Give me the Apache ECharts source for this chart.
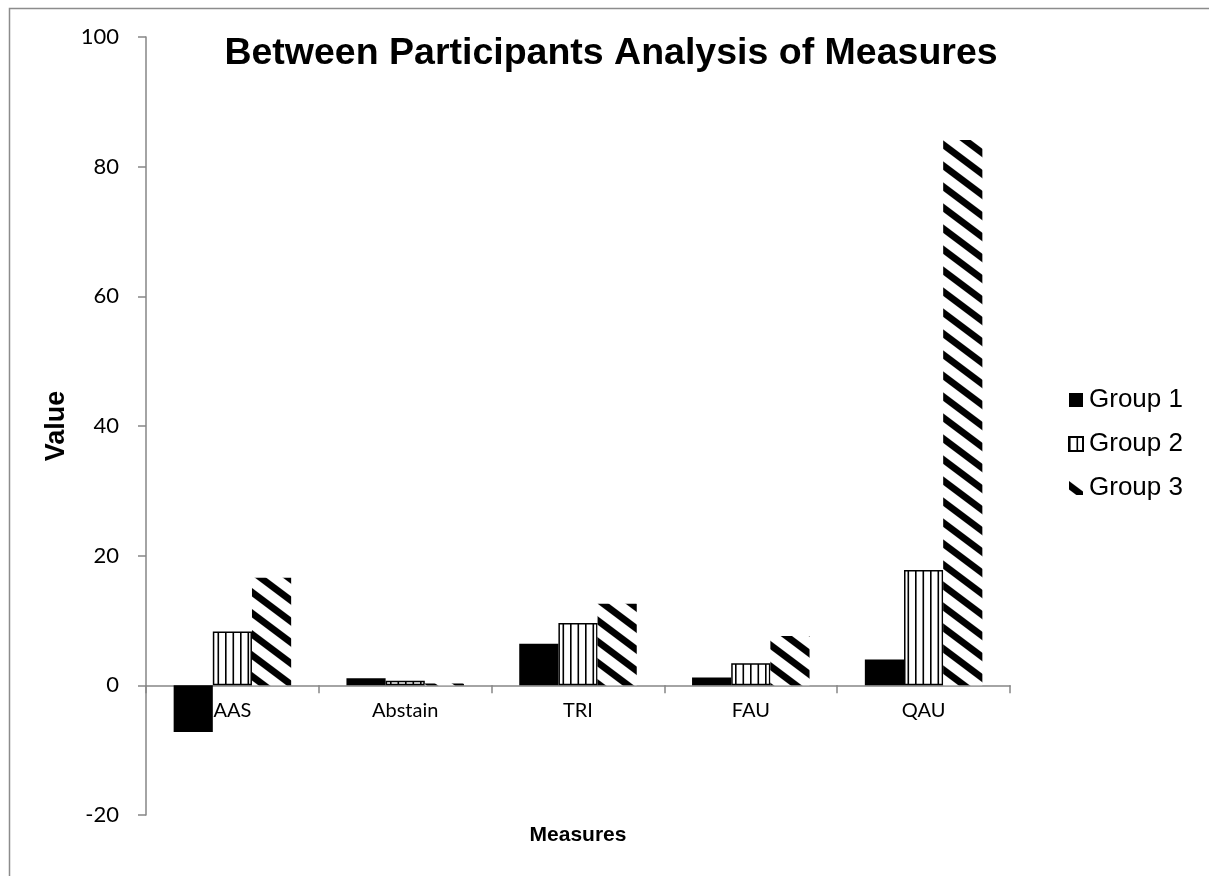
<!DOCTYPE html>
<html><head><meta charset="utf-8">
<script src="https://cdn.jsdelivr.net/npm/echarts@6/dist/echarts.min.js"></script>
<style>html,body{margin:0;padding:0;background:#fff}#c{width:1209px;height:876px}</style>
</head><body><div id="c"></div>
<script>
const categories = ['AAS', 'Abstain', 'TRI', 'FAU', 'QAU'];
const seriesNames = ['Group 1', 'Group 2', 'Group 3'];
const group1 = [-7.2, 1.1, 6.4, 1.2, 4.0];
const group2 = [8.3, 0.7, 9.6, 3.4, 17.8];
const group3 = [16.6, 0.3, 12.6, 7.6, 84.1];
const yTicks = [-20, 0, 20, 40, 60, 80, 100];
const yMin = -20, yMax = 100;

function vStripes() {
  const c = document.createElement('canvas');
  c.width = 15; c.height = 8;
  const g = c.getContext('2d');
  g.fillStyle = '#fff'; g.fillRect(0, 0, 15, 8);
  g.fillStyle = '#000'; g.fillRect(0, 0, 1.6, 8); g.fillRect(7.5, 0, 1.6, 8);
  return c;
}
function dStripes() {
  const W = 28, H = 21, S = 4;
  const c = document.createElement('canvas');
  c.width = W; c.height = H;
  const g = c.getContext('2d');
  const img = g.createImageData(W, H);
  for (let y = 0; y < H; y++) for (let x = 0; x < W; x++) {
    let cov = 0;
    for (let sy = 0; sy < S; sy++) for (let sx = 0; sx < S; sx++) {
      const px = x + (sx + 0.5) / S, py = y + (sy + 0.5) / S;
      const m = (((py - 0.75 * px) % H) + H) % H;
      if (m < 8.5) cov++;
    }
    const v = Math.round(255 * (1 - cov / (S * S)));
    const i = (y * W + x) * 4;
    img.data[i] = v; img.data[i + 1] = v; img.data[i + 2] = v; img.data[i + 3] = 255;
  }
  g.putImageData(img, 0, 0);
  return c;
}

const gridTop = 37, gridBottom = 61, H = 876;
const plotH = H - gridTop - gridBottom;
const zeroOffset = -plotH * (0 - yMin) / (yMax - yMin);

const chart = echarts.init(document.getElementById('c'), null, {renderer: 'canvas'});
const axisGray = '#868686';
chart.setOption({
  backgroundColor: '#fff',
  animation: false,
  graphic: [{
    type: 'rect', left: 7, top: 6,
    shape: {width: 1400, height: 1000},
    style: {fill: 'none', stroke: '#8c8c8c', lineWidth: 1.5}
  }],
  title: {
    text: 'Between Participants Analysis of Measures',
    left: 606, textAlign: 'center', top: 30,
    textStyle: {fontFamily: 'Liberation Sans, Arial', fontWeight: 'bold', fontSize: 37.5, color: '#000'}
  },
  legend: {
    orient: 'vertical', left: 1068, top: 387, padding: 0,
    itemWidth: 14, itemHeight: 14, itemGap: 18, icon: 'rect',
    data: seriesNames,
    textStyle: {fontFamily: 'Liberation Sans, Arial', fontSize: 26, color: '#000', lineHeight: 26, padding: [0, 0, 0, 1]}
  },
  grid: {left: 146, right: 199, top: gridTop, bottom: gridBottom, containLabel: false, outerBoundsMode: 'none'},
  xAxis: {
    type: 'category', data: categories, position: 'bottom', offset: zeroOffset,
    name: 'Measures', nameLocation: 'middle', nameGap: 139,
    nameTextStyle: {fontFamily: 'Liberation Sans, Arial', fontWeight: 'bold', fontSize: 21, color: '#000'},
    axisLine: {onZero: false, lineStyle: {color: axisGray, width: 1.5}},
    axisTick: {show: true, length: 8, lineStyle: {color: axisGray, width: 1.5}},
    axisLabel: {fontFamily: 'Lato, Open Sans', fontSize: 20, color: '#000', margin: 15}
  },
  yAxis: {
    type: 'value', min: yMin, max: yMax, interval: 20,
    name: 'Value', nameLocation: 'middle', nameGap: 76,
    nameTextStyle: {fontFamily: 'Liberation Sans, Arial', fontWeight: 'bold', fontSize: 27, color: '#000'},
    axisLine: {show: true, lineStyle: {color: axisGray, width: 1.5}},
    axisTick: {show: true, length: 8, lineStyle: {color: axisGray, width: 1.5}},
    splitLine: {show: false},
    axisLabel: {fontFamily: 'Lato, Open Sans', fontSize: 22, color: '#000', margin: 27,
      formatter: v => yTicks.includes(v) ? String(v) : ''}
  },
  series: [
    {name: seriesNames[0], type: 'bar', data: group1, barGap: '0%', barCategoryGap: '32%',
     itemStyle: {color: '#000'}},
    {name: seriesNames[1], type: 'bar', data: group2,
     itemStyle: {color: {image: vStripes(), repeat: 'repeat'}, borderColor: '#000', borderWidth: 1.5}},
    {name: seriesNames[2], type: 'bar', data: group3,
     itemStyle: {color: {image: dStripes(), repeat: 'repeat'}}}
  ]
});
</script></body></html>
